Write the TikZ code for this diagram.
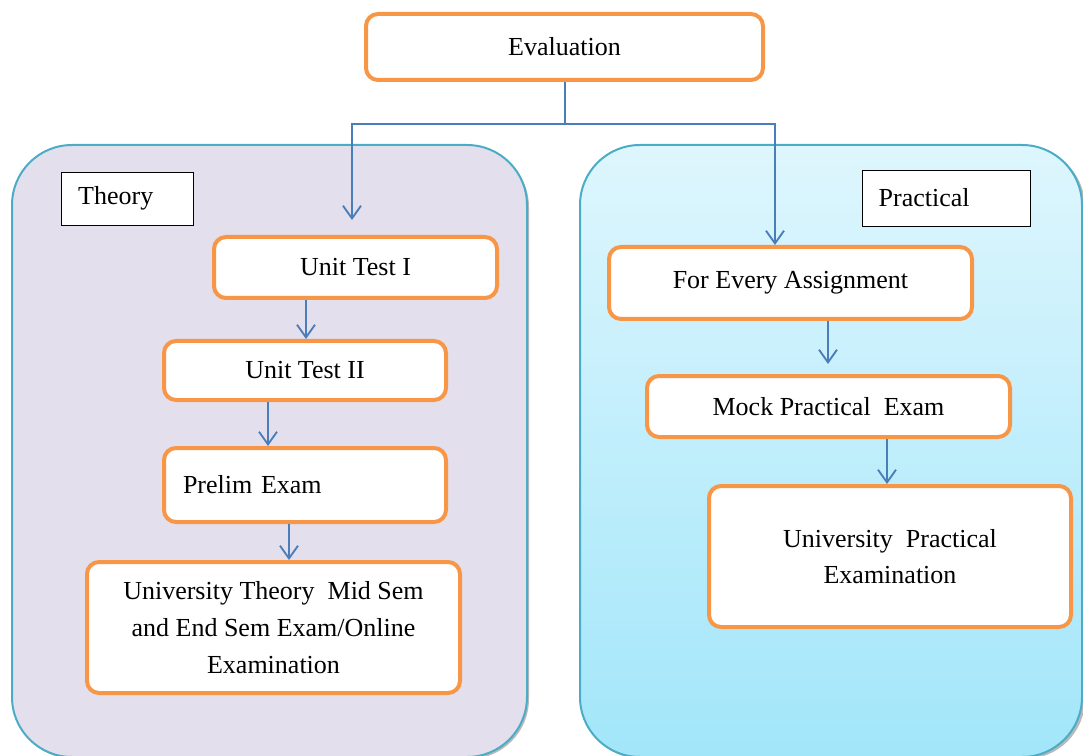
\documentclass[tikz,border=0pt]{standalone}
\usepackage{fontspec}
\setmainfont{Liberation Serif}
\usetikzlibrary{arrows.meta,calc}
\definecolor{orangeb}{HTML}{F79646}
\definecolor{tealb}{HTML}{4BACC6}
\definecolor{lav}{HTML}{E4DFEC}
\definecolor{skyT}{HTML}{DEF6FD}
\definecolor{skyB}{HTML}{A2E6FA}
\definecolor{connb}{HTML}{4A7EBB}
\tikzset{
  obox/.style={draw=orangeb, line width=3pt, fill=white, rounded corners=9pt, inner sep=0pt,
    font=\fontsize{19.5pt}{27.5pt}\selectfont, align=center},
  lbox/.style={draw=black, line width=0.6pt, fill=white, inner sep=0pt, inner xsep=12.5pt,
    font=\fontsize{19.5pt}{27pt}\selectfont, align=left},
  panel/.style={draw=tealb, line width=1.5pt, rounded corners=45pt},
  conn/.style={draw=connb, line width=1.4pt},
  arr/.style={conn, -{Straight Barb[length=9.5pt,width=13.5pt,line width=1.4pt]}},
}
\begin{document}
\begin{tikzpicture}[x=0.75pt,y=-0.75pt]
\useasboundingbox (0,0) rectangle (1083,756);
\begin{scope}
\clip (0,0) rectangle (1083,756);
% shadows
\fill[gray!55, rounded corners=45pt] (14,147) rectangle (529,759);
\fill[gray!55, rounded corners=45pt] (582,147) rectangle (1085,759);
% panels
\path[panel, fill=lav] (12,145) rectangle (527,757);
\path[panel, top color=skyT, bottom color=skyB] (580,145) rectangle (1082,757);
\end{scope}

% labels
\node[lbox, text width=74pt, minimum height=39.75pt] (theory) at (127.5,198.5) {Theory};
\node[lbox, text width=101pt, minimum height=42pt] (practical) at (946,198) {Practical};

% boxes
\node[obox, minimum width=297.75pt, minimum height=49.5pt] (eval) at (564.5,47) {Evaluation};
\node[obox, minimum width=212.25pt, minimum height=45.75pt] (ut1) at (355.5,267.5) {Unit Test I};
\node[obox, text width=183pt, inner xsep=14.25pt, align=left, minimum height=55.5pt] (prelim) at (305,485) {Prelim Exam};
\node[obox, minimum width=211.5pt, minimum height=44.25pt] (ut2) at (305,370.5) {Unit Test II};
\node[obox, minimum width=279.75pt, minimum height=98.25pt] (univT) at (273.5,627.5)
  {University Theory\ \ Mid Sem\\and End Sem Exam/Online\\Examination};
\node[obox, minimum width=272.25pt, minimum height=54pt] (fea) at (790.5,283) {For Every Assignment};
\node[obox, minimum width=272.25pt, minimum height=45.75pt] (mock) at (828.5,406.5) {Mock Practical\ \ Exam};
\node[obox, minimum width=271.5pt, minimum height=105.75pt] (univP) at (890,556.5)
  {University\ \ Practical\\Examination};

% connectors
\coordinate (j) at (565,124);
\coordinate (tl) at (352,220);
\coordinate (tr) at (775,245);
\coordinate (a1) at (306,0);
\coordinate (a2) at (268,0);
\coordinate (a3) at (289,0);
\coordinate (a4) at (828,0);
\coordinate (a5) at (887,0);
\draw[conn] (eval.south -| j) -- (j);
\draw[arr] (j) -| (tl);
\draw[arr] (j) -| (tr);
\draw[arr] (ut1.south -| a1) -- (ut2.north -| a1);
\draw[arr] (ut2.south -| a2) -- (prelim.north -| a2);
\draw[arr] (prelim.south -| a3) -- (univT.north -| a3);
\draw[arr, shorten >=7.5pt] (fea.south -| a4) -- (mock.north -| a4);
\draw[arr] (mock.south -| a5) -- (univP.north -| a5);
\end{tikzpicture}
\end{document}
